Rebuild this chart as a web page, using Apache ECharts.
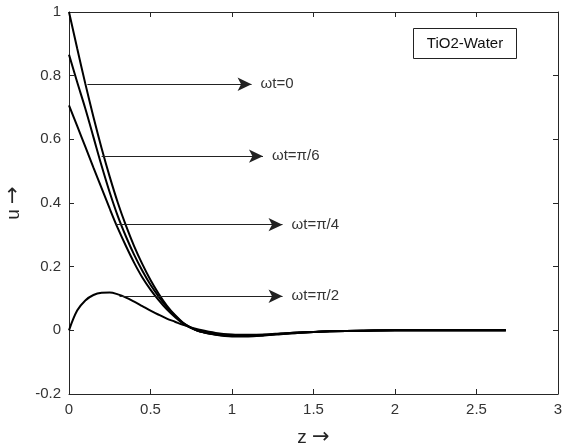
<!DOCTYPE html>
<html>
<head>
<meta charset="utf-8">
<script src="https://cdn.jsdelivr.net/npm/echarts@6/dist/echarts.min.js"></script>
<style>
  html, body { margin: 0; padding: 0; background: #fff; }
  #chart { width: 565px; height: 447px; }
</style>
</head>
<body>
<div id="chart"></div>
<script>
// Velocity profiles u(z) for TiO2-Water at four phases ωt
const zValues = [0, 0.05, 0.1, 0.15, 0.2, 0.25, 0.3, 0.35, 0.4, 0.45, 0.5, 0.55, 0.6, 0.65, 0.7, 0.75, 0.8, 0.9, 1.0, 1.1, 1.2, 1.3, 1.4, 1.5, 1.6, 1.8, 2.0, 2.2, 2.4, 2.68];
const uPhase0 = [1, 0.886, 0.775, 0.67, 0.572, 0.482, 0.40, 0.328, 0.264, 0.208, 0.158, 0.115, 0.078, 0.048, 0.024, 0.008, -0.003, -0.014, -0.019, -0.019, -0.016, -0.012, -0.008, -0.005, -0.003, -0.001, 0, 0, 0, 0];
const uPhasePi6 = [0.866, 0.78, 0.697, 0.607, 0.517, 0.433, 0.358, 0.294, 0.237, 0.187, 0.143, 0.106, 0.073, 0.046, 0.023, 0.008, -0.003, -0.013, -0.018, -0.018, -0.015, -0.011, -0.008, -0.005, -0.003, -0.001, 0, 0, 0, 0];
const uPhasePi4 = [0.707, 0.642, 0.577, 0.511, 0.447, 0.382, 0.32, 0.264, 0.212, 0.166, 0.128, 0.095, 0.066, 0.042, 0.021, 0.007, -0.003, -0.012, -0.017, -0.017, -0.014, -0.011, -0.007, -0.005, -0.003, -0.001, 0, 0, 0, 0];
const uPhasePi2 = [0, 0.062, 0.094, 0.111, 0.118, 0.119, 0.113, 0.103, 0.09, 0.076, 0.062, 0.049, 0.037, 0.027, 0.017, 0.009, 0.002, -0.008, -0.013, -0.014, -0.013, -0.010, -0.007, -0.005, -0.003, -0.001, 0, 0, 0, 0];

// Arrow annotations pointing from each curve to its phase label
const arrowLabels = ['ωt=0', 'ωt=π/6', 'ωt=π/4', 'ωt=π/2'];
const arrowU = [0.773, 0.547, 0.332, 0.107];
const arrowFromZ = [0.113, 0.2, 0.283, 0.31];
const arrowToZ = [1.12, 1.19, 1.31, 1.31];

const FONT = '"Liberation Sans", Arial, sans-serif';
const ARROW_FONT = '"DejaVu Sans", sans-serif';
const AXIS_COLOR = '#262626';
const TEXT_COLOR = '#333';

function pairs(ys) { return zValues.map((z, i) => [z, ys[i]]); }

const curves = [uPhase0, uPhasePi6, uPhasePi4, uPhasePi2].map((ys, i) => ({
  type: 'line',
  name: arrowLabels[i],
  data: pairs(ys),
  smooth: 0.35,
  showSymbol: false,
  lineStyle: { color: '#000', width: 2 },
  z: 3
}));

const arrowSeries = {
  type: 'line',
  data: [],
  silent: true,
  markLine: {
    silent: true,
    animation: false,
    symbol: ['none', 'arrow'],
    symbolSize: [10, 14],
    lineStyle: { color: '#222', width: 1, type: 'solid' },
    itemStyle: { color: '#000' },
    label: {
      show: true,
      position: 'end',
      distance: 9,
      color: TEXT_COLOR,
      fontFamily: FONT,
      fontSize: 15
    },
    data: arrowLabels.map((txt, i) => [
      { coord: [arrowFromZ[i], arrowU[i]], name: txt, label: { formatter: txt } },
      { coord: [arrowToZ[i], arrowU[i]] }
    ])
  }
};

const axisCommon = {
  type: 'value',
  axisLine: { show: true, onZero: false, lineStyle: { color: AXIS_COLOR, width: 1 } },
  axisTick: { show: true, inside: true, length: 5, lineStyle: { color: AXIS_COLOR } },
  splitLine: { show: false }
};

const nameStyle = {
  color: AXIS_COLOR,
  fontFamily: FONT,
  fontSize: 19,
  rich: {
    arr: { fontFamily: ARROW_FONT, fontSize: 21, color: AXIS_COLOR }
  }
};

const chart = echarts.init(document.getElementById('chart'), null, { renderer: 'canvas' });
chart.setOption({
  animation: false,
  backgroundColor: '#fff',
  grid: { left: 69, right: 7, top: 12, bottom: 53, containLabel: false, outerBoundsMode: 'none' },
  xAxis: [
    Object.assign({}, axisCommon, {
      min: 0, max: 3, interval: 0.5,
      position: 'bottom',
      name: 'z {arr|→}',
      nameLocation: 'middle',
      nameGap: 33,
      nameTextStyle: nameStyle,
      axisLabel: { color: TEXT_COLOR, fontFamily: FONT, fontSize: 15, margin: 8 }
    }),
    Object.assign({}, axisCommon, {
      min: 0, max: 3, interval: 0.5,
      position: 'top',
      axisLabel: { show: false }
    })
  ],
  yAxis: [
    Object.assign({}, axisCommon, {
      min: -0.2, max: 1, interval: 0.2,
      position: 'left',
      name: 'u {arr|→}',
      nameLocation: 'middle',
      nameGap: 42,
      nameRotate: 90,
      nameTextStyle: nameStyle,
      axisLabel: { color: TEXT_COLOR, fontFamily: FONT, fontSize: 15, margin: 8 }
    }),
    Object.assign({}, axisCommon, {
      min: -0.2, max: 1, interval: 0.2,
      position: 'right',
      axisLabel: { show: false }
    })
  ],
  graphic: [{
    type: 'group',
    left: 413,
    top: 28,
    children: [
      {
        type: 'rect',
        shape: { x: 0, y: 0, width: 103, height: 30 },
        style: { fill: '#fff', stroke: '#222', lineWidth: 1 }
      },
      {
        type: 'text',
        style: {
          x: 51.5, y: 15,
          text: 'TiO2-Water',
          align: 'center',
          verticalAlign: 'middle',
          fill: '#111',
          font: '15px ' + FONT
        }
      }
    ]
  }],
  series: curves.concat([arrowSeries])
});
</script>
</body>
</html>
